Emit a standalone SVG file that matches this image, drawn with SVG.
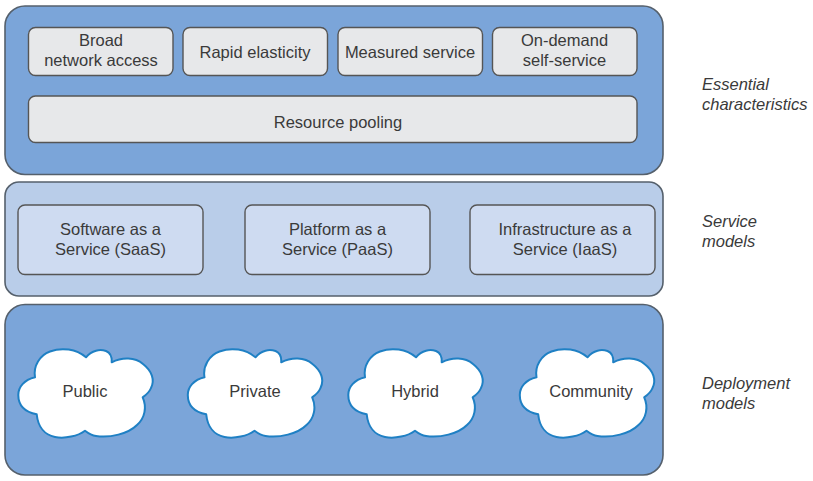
<svg xmlns="http://www.w3.org/2000/svg" width="813" height="481" viewBox="0 0 813 481">
<style>
text{font-family:"Liberation Sans",Arial,sans-serif;font-size:16.500px;fill:#3a3a3a;text-anchor:middle}
.panel{stroke:#55606c;stroke-width:1.6}
.dark{fill:#7ba5d9}
.light{fill:#b9cde9}
.grey{fill:#e7e8ea;stroke:#555;stroke-width:1.4}
.blue{fill:#cedbf1;stroke:#555;stroke-width:1.4}
.cloud{fill:#fff;stroke:#1f80c4;stroke-width:2;stroke-linejoin:round}
.side{font-style:italic;text-anchor:start}
</style>
<defs>
<path id="cloudShape" d="M36.700 114.300C25 112 18.300 106 18.300 95C18.300 87 24 80 35 77.300C33 66 40 55 50 51.500C62 47 76 49 86 57.300C92 50 100 49 106 51C111 53 112 58 111.700 62.300C122 57 135 57 143 64C152 71 155 80 151 88C149 93 146 95 142.700 97.300C147 107 145 118 137 125C128 134 110 138 96 136C92 135.500 88 133 85 130.700C78 136 65 139 55 137C45 135 38 127 36.700 114.300Z"/>
</defs>
<rect width="813" height="481" fill="#fff"/>
<g id="essential">
<rect class="panel dark" x="5" y="6" width="658" height="168.500" rx="20"/>
<g id="broad"><rect class="grey" x="28.500" y="27.500" width="144.500" height="48" rx="7"/><text x="101" y="46">Broad</text><text x="101" y="66">network access</text></g>
<g id="rapid"><rect class="grey" x="183" y="27.500" width="144.500" height="48" rx="7"/><text x="255" y="58">Rapid elasticity</text></g>
<g id="measured"><rect class="grey" x="338" y="27.500" width="144.500" height="48" rx="7"/><text x="410" y="58">Measured service</text></g>
<g id="ondemand"><rect class="grey" x="492.500" y="27.500" width="144.500" height="48" rx="7"/><text x="564.500" y="46">On-demand</text><text x="564.500" y="66">self-service</text></g>
<g id="pooling"><rect class="grey" x="28.500" y="96" width="608.500" height="46.500" rx="7"/><text x="338" y="127.500">Resource pooling</text></g>
<text class="side" x="702" y="90">Essential</text><text class="side" x="702" y="110">characteristics</text>
</g>
<g id="service">
<rect class="panel light" x="5" y="182" width="658" height="114" rx="14"/>
<g id="saas"><rect class="blue" x="18" y="205" width="185" height="69.500" rx="7"/><text x="110.500" y="235">Software as a</text><text x="110.500" y="255">Service (SaaS)</text></g>
<g id="paas"><rect class="blue" x="245" y="205" width="185" height="69.500" rx="7"/><text x="337.500" y="235">Platform as a</text><text x="337.500" y="255">Service (PaaS)</text></g>
<g id="iaas"><rect class="blue" x="470" y="205" width="185" height="69.500" rx="7"/><text x="565" y="235">Infrastructure as a</text><text x="565" y="255">Service (IaaS)</text></g>
<text class="side" x="702" y="227">Service</text><text class="side" x="702" y="247">models</text>
</g>
<g id="deployment">
<rect class="panel dark" x="5" y="304.500" width="658" height="170.500" rx="20"/>
<g id="public"><use href="#cloudShape" class="cloud" x="0" y="300"/><text x="85" y="397">Public</text></g>
<g id="private"><use href="#cloudShape" class="cloud" x="169.500" y="300"/><text x="255" y="397">Private</text></g>
<g id="hybrid"><use href="#cloudShape" class="cloud" x="330" y="300"/><text x="415" y="397">Hybrid</text></g>
<g id="community"><use href="#cloudShape" class="cloud" x="501.500" y="300"/><text x="591" y="397">Community</text></g>
<text class="side" x="702" y="389">Deployment</text><text class="side" x="702" y="409">models</text>
</g>
<g id="connectors"/>
</svg>
